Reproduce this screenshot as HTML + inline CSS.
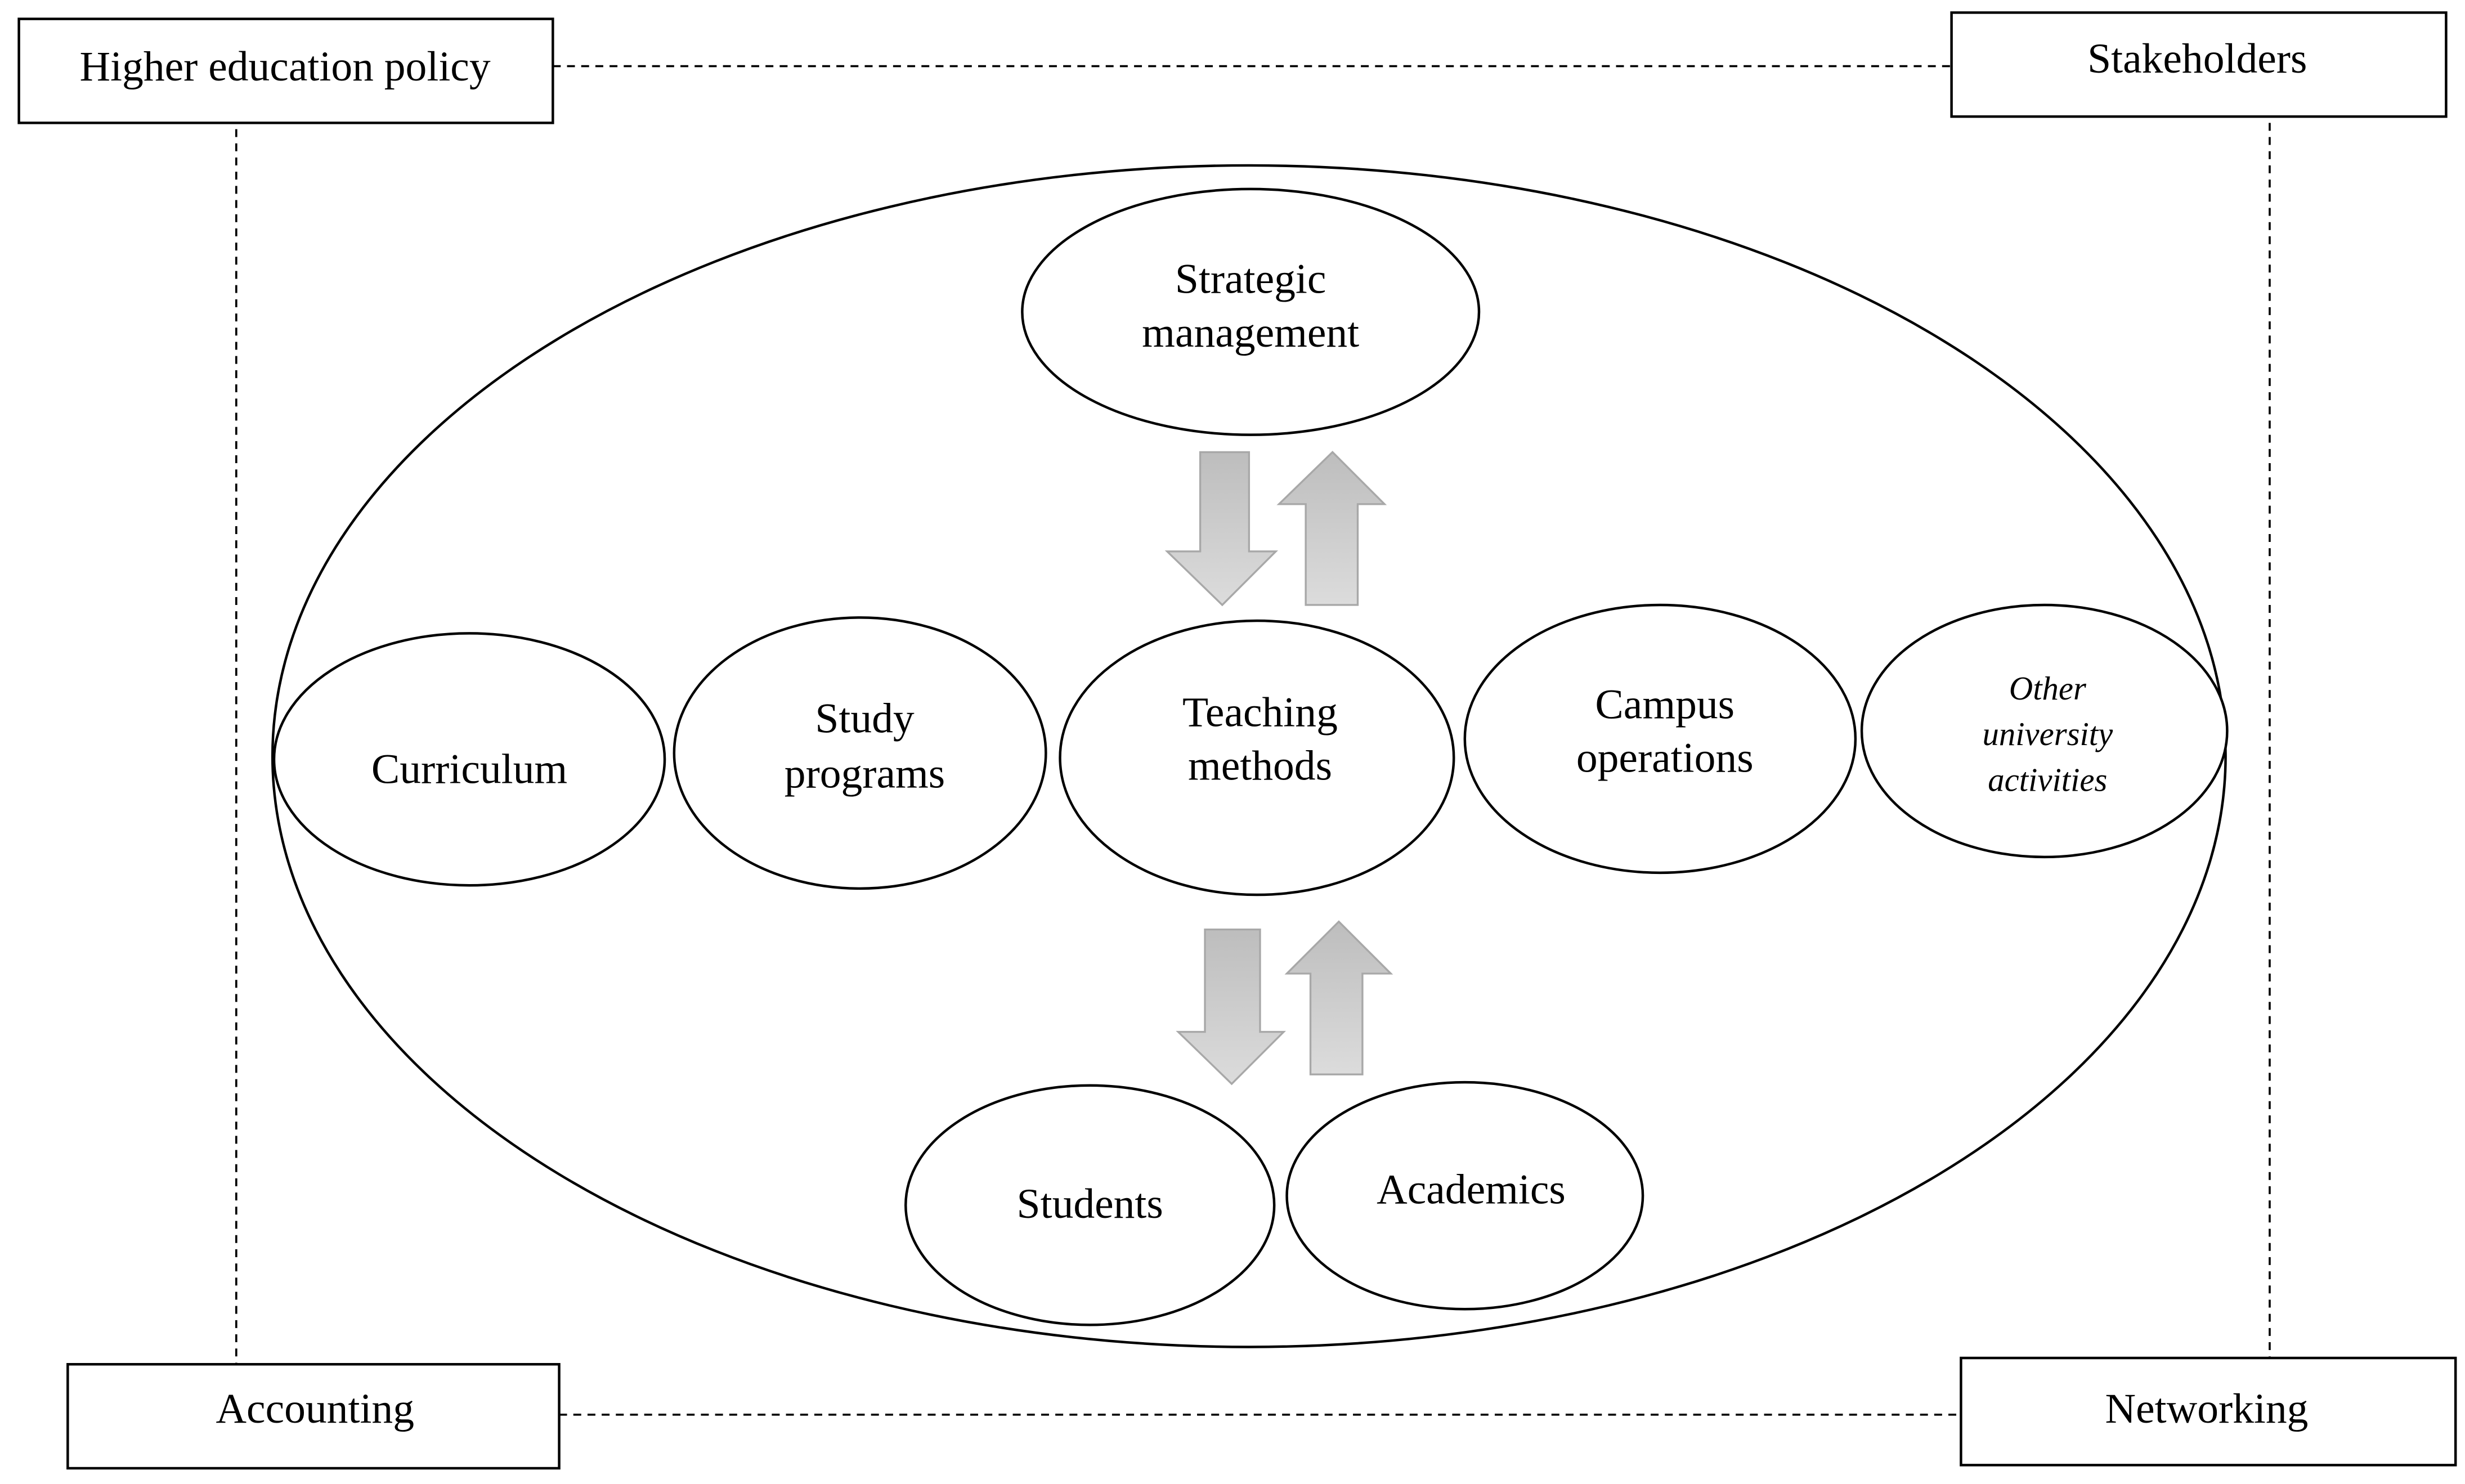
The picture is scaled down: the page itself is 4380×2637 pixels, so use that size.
<!DOCTYPE html>
<html><head><style>html,body{margin:0;padding:0;background:#fff}svg{display:block}</style></head>
<body>
<svg width="4380" height="2637" viewBox="0 0 1565 942" preserveAspectRatio="none" xmlns="http://www.w3.org/2000/svg" font-family="Liberation Serif, serif" font-size="27" fill="none" stroke="#000">
<defs>
<linearGradient id="g" x1="0" y1="0" x2="0" y2="1"><stop offset="0" stop-color="#bdbdbd"/><stop offset="1" stop-color="#dcdcdc"/></linearGradient>
</defs>
<g stroke-width="1.3" stroke-dasharray="5,4">
<line x1="351" y1="42" x2="1239" y2="42"/>
<line x1="150" y1="82" x2="150" y2="866"/>
<line x1="1441" y1="78" x2="1441" y2="862"/>
<line x1="355" y1="898" x2="1245" y2="898"/>
</g>
<g stroke-width="1.6" fill="#fff">
<rect x="12" y="12" width="339" height="66"/>
<rect x="1239" y="8" width="314" height="66"/>
<rect x="43" y="866" width="312" height="66"/>
<rect x="1245" y="862" width="314" height="68"/>
</g>
<ellipse cx="793" cy="480" rx="620" ry="375" stroke-width="1.6"/>
<g stroke-width="1.6" fill="#fff">
<ellipse cx="794" cy="198" rx="145" ry="78"/>
<ellipse cx="298" cy="482" rx="124" ry="80"/>
<ellipse cx="546" cy="478" rx="118" ry="86"/>
<ellipse cx="798" cy="481" rx="125" ry="87"/>
<ellipse cx="1054" cy="469" rx="124" ry="85"/>
<ellipse cx="1298" cy="464" rx="116" ry="80"/>
<ellipse cx="692" cy="765" rx="117" ry="76"/>
<ellipse cx="930" cy="759" rx="113" ry="72"/>
</g>
<g fill="url(#g)" stroke="#a8a8a8" stroke-width="1.2">
<polygon points="762,287 793,287 793,350 810,350 776,384 741,350 762,350"/>
<polygon points="829,384 862,384 862,320 879,320 846,287 812,320 829,320"/>
<polygon points="765,590 800,590 800,655 815,655 782,688 748,655 765,655"/>
<polygon points="832,682 865,682 865,618 883,618 850,585 817,618 832,618"/>
</g>
<g fill="#000" stroke="none" text-anchor="middle">
<text x="181" y="51">Higher education policy</text>
<text x="1395" y="46">Stakeholders</text>
<text x="200" y="903">Accounting</text>
<text x="1401" y="903">Networking</text>
<text x="794" y="186">Strategic</text>
<text x="794" y="220">management</text>
<text x="298" y="497">Curriculum</text>
<text x="549" y="465">Study</text>
<text x="549" y="500">programs</text>
<text x="800" y="461">Teaching</text>
<text x="800" y="495">methods</text>
<text x="1057" y="456">Campus</text>
<text x="1057" y="490">operations</text>
<text x="692" y="773">Students</text>
<text x="934" y="764">Academics</text>
<g font-style="italic" font-size="21">
<text x="1300" y="444">Other</text>
<text x="1300" y="473">university</text>
<text x="1300" y="502">activities</text>
</g>
</g>
</svg>
</body></html>
